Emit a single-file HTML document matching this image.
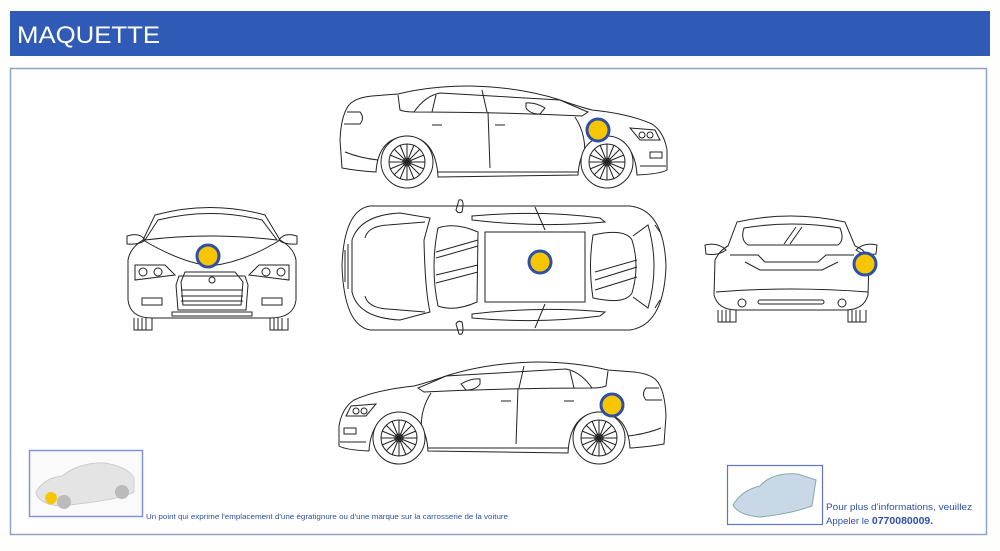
<!DOCTYPE html>
<html><head><meta charset="utf-8"><style>
html,body{margin:0;padding:0;background:#fefefc;width:1000px;height:551px;overflow:hidden;font-family:"Liberation Sans",sans-serif}
</style></head><body>
<svg width="1000" height="551" viewBox="0 0 1000 551" xmlns="http://www.w3.org/2000/svg">
<defs>
<g id="side" fill="none" stroke="#222" stroke-width="1">
  <path d="M342,168 L340,140 Q341,118 347,108 Q352,98 372,96 L398,94 Q430,86 470,86 Q520,87 560,100 Q580,107 592,110 Q630,114 652,124 Q664,132 667,150 L667,170 Q660,174 637,175 Q635,140 607,138 Q580,140 578,175 L438,177 Q436,138 407,136 Q378,138 376,172 Q358,171 342,168 Z" fill="#fff"/>
  <path d="M414,112 Q425,96 440,93 L560,100 Q578,108 588,112 L582,116 Q500,112 414,112 Z"/>
  <path d="M436,95 L432,112 M482,90 L487,112 M488,112 L490,168 M575,117 Q590,140 582,170"/>
  <path d="M438,172 L578,172 M398,95 L400,110 Q405,112 414,112"/>
  <path d="M526,103 Q535,102 545,108 L540,114 Q530,114 526,108 Z"/>
  <path d="M432,125 h10 M495,125 h10"/>
  <path d="M347,112 L360,112 Q365,118 360,124 L344,124"/>
  <path d="M630,128 L655,130 L660,140 L640,140 Z"/>
  <circle cx="642" cy="135" r="3"/><circle cx="650" cy="135" r="3"/>
  <path d="M650,152 h12 v6 h-12 z"/>
  <path d="M345,152 Q360,158 378,160 M640,166 L666,166"/>
  <circle cx="407" cy="162" r="26" fill="#fff"/><circle cx="407" cy="162" r="18"/><circle cx="407" cy="162" r="4"/>
  <circle cx="607" cy="162" r="26" fill="#fff"/><circle cx="607" cy="162" r="18"/><circle cx="607" cy="162" r="4"/>
  <path d="M407,144 V180 M389,162 H425 M394,149 L420,175 M420,149 L394,175 M400,145 L414,179 M414,145 L400,179 M390,155 L424,169 M424,155 L390,169"/>
  <path d="M607,144 V180 M589,162 H625 M594,149 L620,175 M620,149 L594,175 M600,145 L614,179 M614,145 L600,179 M590,155 L624,169 M624,155 L590,169"/>
</g>
<g id="dot"><circle r="11" fill="#f7c600" stroke="#2e4fa6" stroke-width="3"/></g>
</defs>

<rect x="10" y="11" width="980" height="45" fill="#2f5bb7"/>
<text x="17" y="43" fill="#fff" font-size="24" font-family="Liberation Sans, sans-serif" textLength="143" lengthAdjust="spacingAndGlyphs">MAQUETTE</text>
<rect x="10.5" y="68.5" width="976" height="466" fill="#fff" stroke="#8fa3c4" stroke-width="1.5"/>

<use href="#side"/>
<use href="#dot" x="598" y="130"/>

<g transform="translate(1006,276) scale(-1,1)"><use href="#side"/></g>
<use href="#dot" x="612" y="405"/>

<g fill="none" stroke="#222" stroke-width="1">
  <path d="M134,318 L134,330 L152,330 L152,318 M270,318 L270,330 L288,330 L288,318" fill="#fff"/>
  <path d="M138,318 v12 M142,318 v12 M146,318 v12 M274,318 v12 M278,318 v12 M282,318 v12"/>
  <path d="M128,300 L128,260 Q130,248 143,240 L155,215 Q210,200 265,215 L280,240 Q294,248 296,260 L296,300 Q294,318 270,318 L152,318 Q130,318 128,300 Z" fill="#fff"/>
  <path d="M145,240 L158,220 Q210,207 262,220 L277,240 Q210,232 145,240 Z"/>
  <path d="M143,240 Q180,262 210,266 Q245,262 280,240"/>
  <path d="M127,236 Q140,232 145,240 Q140,245 127,244 Z M297,236 Q284,232 279,240 Q284,245 297,244 Z"/>
  <path d="M135,265 L165,265 L175,275 L135,280 Z M289,265 L259,265 L249,275 L289,280 Z"/>
  <circle cx="143" cy="272" r="4"/><circle cx="158" cy="272" r="4"/><circle cx="281" cy="272" r="4"/><circle cx="266" cy="272" r="4"/>
  <path d="M185,272 L235,272 L243,282 L241,305 L183,305 L181,282 Z M179,276 L245,276 L248,285 L246,310 L178,310 L176,285 Z"/>
  <path d="M181,290 h62 M181,296 h62 M181,301 h62"/>
  <circle cx="212" cy="280" r="3"/>
  <path d="M142,298 h20 v7 h-20 z M262,298 h20 v7 h-20 z M172,312 h80 v4 h-80 z"/>
</g>
<use href="#dot" x="208" y="256"/>

<g fill="none" stroke="#222" stroke-width="1">
  <path d="M370,206 L630,206 Q664,210 666,266 Q664,325 630,330 L370,330 Q344,325 342,266 Q344,210 370,206 Z" fill="#fff"/>
  <path d="M352,240 Q360,215 400,213 L430,218 L424,240 Q425,290 430,312 L400,320 Q358,318 352,292 Z"/>
  <path d="M365,238 Q368,226 388,225 L425,222 M365,296 Q368,308 388,309 L425,312"/>
  <path d="M348,244 v45 M345,250 v32"/>
  <path d="M438,228 Q455,222 478,232 L477,302 Q455,312 438,306 Q430,267 438,228 Z"/>
  <path d="M436,252 L478,240 M436,258 L478,246 M436,275 L478,265 M436,283 L478,272"/>
  <rect x="485" y="232" width="100" height="70"/>
  <path d="M593,235 Q625,228 632,240 Q640,266 632,293 Q625,305 593,298 Q588,266 593,235 Z"/>
  <path d="M595,272 L637,260 M595,280 L637,267 M595,290 L637,277"/>
  <path d="M633,236 L648,225 Q660,266 648,308 L633,297"/>
  <path d="M472,216 Q540,210 600,218 L605,222 Q540,228 472,220 Z M472,318 Q540,324 600,316 L605,312 Q540,306 472,314 Z"/>
  <path d="M535,207 L545,230 M535,328 L545,304"/>
  <path d="M459,200 Q465,198 462,212 Q458,214 456,210 Z M459,334 Q465,336 462,322 Q458,320 456,324 Z"/>
  <path d="M655,225 L660,232 M655,308 L660,300"/>
</g>
<use href="#dot" x="540" y="262"/>

<g fill="none" stroke="#222" stroke-width="1">
  <path d="M718,310 v12 h18 v-12 M848,310 v12 h18 v-12" fill="#fff"/>
  <path d="M722,310 v12 M726,310 v12 M730,310 v12 M852,310 v12 M856,310 v12 M860,310 v12"/>
  <path d="M714,295 L715,260 Q720,250 728,246 L737,222 Q790,210 845,222 L855,246 Q866,250 869,260 L868,295 Q864,310 845,310 L737,310 Q718,310 714,295 Z" fill="#fff"/>
  <path d="M744,228 Q792,220 840,228 Q845,240 838,245 L748,245 Q740,240 744,228 Z"/>
  <path d="M784,244 L796,227 M790,244 L802,227"/>
  <path d="M705,245 Q718,242 726,250 Q718,256 706,254 Z M877,245 Q864,242 856,250 Q864,256 876,254 Z"/>
  <path d="M730,255 L758,255 L765,262 L818,262 L826,255 L854,255 M745,262 L760,270 L822,270 L838,262"/>
  <path d="M716,292 Q790,286 868,292"/>
  <circle cx="742" cy="303" r="4"/><circle cx="842" cy="303" r="4"/>
  <rect x="758" y="300" width="66" height="4" rx="2"/>
</g>
<use href="#dot" x="865" y="264"/>

<rect x="29.5" y="450.5" width="113" height="66" fill="#fafafa" stroke="#8392d0" stroke-width="1.5"/>
<path d="M36,492 Q44,478 62,476 Q80,462 105,463 Q128,467 134,478 L134,492 Q120,500 60,506 Q38,504 36,492 Z" fill="#e4e4e4" stroke="#ccc"/>
<circle cx="64" cy="502" r="7" fill="#bbb"/><circle cx="122" cy="492" r="7" fill="#bbb"/>
<circle cx="51" cy="498" r="6" fill="#f7c600"/>
<text x="146" y="519" fill="#2e4fa6" font-size="7" textLength="362" lengthAdjust="spacingAndGlyphs">Un point qui exprime l'emplacement d'une égratignure ou d'une marque sur la carrosserie de la voiture</text>

<rect x="727.5" y="465.5" width="95" height="59" fill="#fff" stroke="#5f74c8" stroke-width="1.2"/>
<path d="M733,505 Q742,490 760,486 Q772,472 798,474 L816,480 L812,506 Q790,514 760,517 Q738,515 733,505 Z" fill="#c9d8e6" stroke="#8aa"/>
<text x="826" y="510" fill="#2e4fa6" font-size="9.6" textLength="146" lengthAdjust="spacingAndGlyphs">Pour plus d'informations, veuillez</text>
<text x="826" y="524" fill="#2e4fa6" font-size="9.6">Appeler le <tspan font-weight="bold" font-size="10.5">0770080009.</tspan></text>
</svg>
</body></html>
